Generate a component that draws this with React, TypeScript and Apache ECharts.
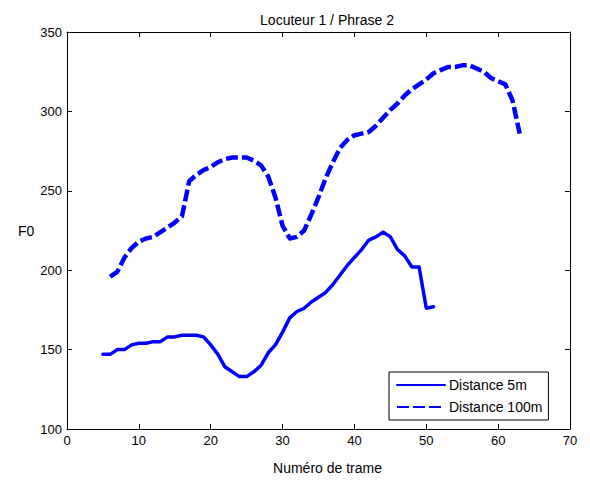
import React, { useEffect, useRef } from "react";
import * as echarts from "echarts";

const frames5m = [5, 6, 7, 8, 9, 10, 11, 12, 13, 14, 15, 16, 17, 18, 19, 20, 21, 22, 23, 24, 25, 26, 27, 28, 29, 30, 31, 32, 33, 34, 35, 36, 37, 38, 39, 40, 41, 42, 43, 44, 45, 46, 47, 48, 49, 50, 51];
const f0_5m = [147, 147, 150, 150, 153, 154, 154, 155, 155, 158, 158, 159, 159, 159, 158, 153, 147, 139, 136, 133, 133, 136, 140, 148, 153, 161, 170, 174, 176, 180, 183, 186, 191, 197, 203, 208, 213, 219, 221, 224, 221, 213, 209, 202, 202, 176, 177];

const frames100m = [6, 7, 8, 9, 10, 11, 12, 13, 14, 15, 16, 17, 18, 19, 20, 21, 22, 23, 24, 25, 26, 27, 28, 29, 30, 31, 32, 33, 34, 35, 36, 37, 38, 39, 40, 41, 42, 43, 44, 45, 46, 47, 48, 49, 50, 51, 52, 53, 54, 55, 56, 57, 58, 59, 60, 61, 62, 63];
const f0_100m = [196, 199, 208, 214, 218, 220, 221, 224, 227, 230, 234, 256, 260, 263, 265, 268, 270, 271, 271, 271, 269, 266, 259, 246, 228, 220, 221, 225, 235, 246, 258, 268, 277, 282, 285, 286, 287, 291, 296, 301, 305, 310, 314, 317, 320, 324, 326, 328, 328, 329, 329, 327, 325, 321, 319, 317, 307, 286];

const seriesNames = ["Distance 5m", "Distance 100m"];
const xRange = { min: 0, max: 70, interval: 10 };
const yRange = { min: 100, max: 350, interval: 50 };

const FONT = "'Liberation Sans', Arial, sans-serif";

export default function App() {
  const ref = useRef<HTMLDivElement>(null);
  useEffect(() => {
    if (!ref.current) return;
    const chart = echarts.init(ref.current, undefined, { renderer: "svg" });
    const axisCommon = {
      axisLine: { show: true, onZero: false, lineStyle: { color: "#000", width: 1 } },
      axisTick: { show: true, inside: true, length: 5, lineStyle: { color: "#000" } },
      splitLine: { show: false },
    };
    chart.setOption({
      animation: false,
      backgroundColor: "#fff",
      textStyle: { fontFamily: FONT },
      title: {
        text: "Locuteur 1 / Phrase 2",
        left: 322,
        top: 8,
        textAlign: "center",
        textStyle: { fontSize: 14, fontWeight: "normal", color: "#000", fontFamily: FONT },
      },
      grid: { left: 67, right: 20, top: 32, bottom: 51, containLabel: false },
      legend: {
        data: seriesNames,
        orient: "vertical",
        left: 389,
        top: 372,
        backgroundColor: "#fff",
        borderColor: "#000",
        borderWidth: 1,
        borderRadius: 0,
        padding: [6, 6, 6, 7],
        itemWidth: 48,
        itemHeight: 10,
        itemGap: 8,
        itemStyle: { opacity: 0 },
        textStyle: { fontSize: 14, color: "#000", fontFamily: FONT, padding: [0, 0, 0, -1] },
      },
      xAxis: [
        {
          type: "value",
          ...xRange,
          position: "bottom",
          name: "Numéro de trame",
          nameLocation: "middle",
          nameGap: 32,
          nameTextStyle: { fontSize: 14, color: "#000", fontFamily: FONT, padding: [0, 0, 0, 18] },
          axisLabel: { fontSize: 13, color: "#000", margin: 5, fontFamily: FONT },
          ...axisCommon,
        },
        {
          type: "value",
          ...xRange,
          position: "top",
          axisLabel: { show: false },
          ...axisCommon,
        },
      ],
      yAxis: [
        {
          type: "value",
          ...yRange,
          position: "left",
          name: "F0",
          nameLocation: "middle",
          nameRotate: 0,
          nameGap: 30,
          nameTextStyle: { fontSize: 14, color: "#000", fontFamily: FONT },
          axisLabel: { fontSize: 13, color: "#000", margin: 5, fontFamily: FONT },
          ...axisCommon,
        },
        {
          type: "value",
          ...yRange,
          position: "right",
          axisLabel: { show: false },
          ...axisCommon,
        },
      ],
      series: [
        {
          name: seriesNames[0],
          type: "line",
          data: frames5m.map((f, i) => [f, f0_5m[i]]),
          symbol: "none",
          lineStyle: { color: "#0000ff", width: 3.5, type: "solid", cap: "round", join: "round" },
          itemStyle: { color: "#0000ff" },
        },
        {
          name: seriesNames[1],
          type: "line",
          data: frames100m.map((f, i) => [f, f0_100m[i]]),
          symbol: "none",
          lineStyle: { color: "#0000ff", width: 4.5, type: [12, 4], cap: "butt", join: "round" },
          itemStyle: { color: "#0000ff" },
        },
      ],
    });
    return () => chart.dispose();
  }, []);
  return (
    <div
      ref={ref}
      style={{ position: "absolute", left: 0, top: 0, width: 590, height: 480 }}
    />
  );
}
